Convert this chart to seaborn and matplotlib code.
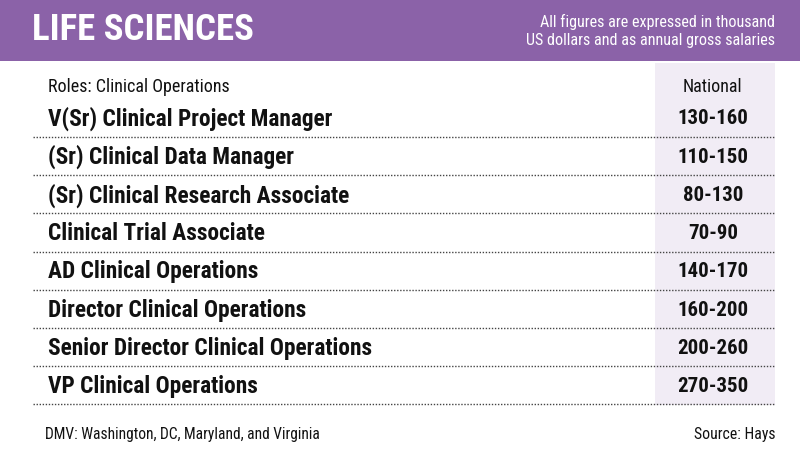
import matplotlib
matplotlib.use("Agg")
import matplotlib.pyplot as plt
import seaborn as sns

# --- data ---
title = "LIFE SCIENCES"
note = "All figures are expressed in thousand\nUS dollars and as annual gross salaries"
col_roles = "Roles: Clinical Operations"
col_region = "National"
roles = [
    "V(Sr) Clinical Project Manager",
    "(Sr) Clinical Data Manager",
    "(Sr) Clinical Research Associate",
    "Clinical Trial Associate",
    "AD Clinical Operations",
    "Director Clinical Operations",
    "Senior Director Clinical Operations",
    "VP Clinical Operations",
]
low = [130, 110, 80, 70, 140, 160, 200, 270]
high = [160, 150, 130, 90, 170, 200, 260, 350]
footnote = "DMV: Washington, DC, Maryland, and Virginia"
source = "Source: Hays"

PURPLE = "#8b62a8"
LAVENDER = "#f1ecf5"
INK = "#111111"

sns.set_theme(style="white")
plt.rcParams["font.family"] = ["Roboto Condensed", "Liberation Sans Narrow",
                               "Roboto", "DejaVu Sans"]

fig = plt.figure(figsize=(8, 4.5), dpi=100)
ax = fig.add_axes([0, 0, 1, 1])
ax.set_xlim(0, 800)
ax.set_ylim(450, 0)
ax.axis("off")

# header band
ax.add_patch(plt.Rectangle((0, 0), 800, 61, color=PURPLE, lw=0))
ax.text(32, 30, title, color="white", fontsize=26.5, fontweight="black", va="center")
ax.text(775, 31, note, color="white", fontsize=11.6, ha="right", va="center",
        linespacing=1.25)

# highlighted value column
ax.add_patch(plt.Rectangle((655, 63), 120, 342, color=LAVENDER, lw=0))

ax.text(48, 87, col_roles, fontsize=13, va="center", color=INK)
ax.text(712, 87, col_region, fontsize=13, va="center", ha="center", color=INK)

y0, step = 119, 38.2
for i, (role, lo, hi) in enumerate(zip(roles, low, high)):
    y = y0 + i * step
    ax.text(48, y, role, fontsize=16.8, fontweight="bold", va="center", color=INK)
    ax.text(713, y, f"{lo}-{hi}", fontsize=15, fontweight="bold", va="center",
            ha="center", color=INK)
    ax.plot([33, 775], [y + 18, y + 18], color="#444444", lw=1.0, ls=(0, (1, 1.2)))

ax.text(45, 435, footnote, fontsize=11.2, va="center", color=INK)
ax.text(775, 435, source, fontsize=11.3, va="center", ha="right", color=INK)

fig.savefig("out.png", dpi=100)
